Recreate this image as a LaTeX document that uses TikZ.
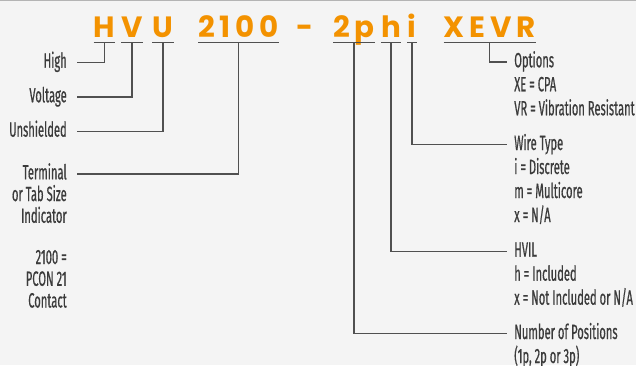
\documentclass[tikz,border=0pt]{standalone}
\usepackage{fontspec}
\newfontfamily\codefont{Poppins}[LetterSpace=16]
\newfontfamily\lblfont{Fira Sans}[FakeStretch=0.54,FakeBold=0.6]
\usetikzlibrary{positioning}
\definecolor{brand}{HTML}{F39200}
\definecolor{txtgray}{HTML}{3B3B3B}
\definecolor{leadgray}{HTML}{505050}
\definecolor{bgc}{HTML}{F4F4F4}
\definecolor{topline}{HTML}{B4B4B4}

\begin{document}
\begin{tikzpicture}[x=0.75pt,y=-0.75pt,
  code/.style={font=\codefont\bfseries\fontsize{22pt}{24pt}\selectfont,text=brand,inner sep=0pt,anchor=base},
  lead/.style={draw=leadgray,line width=1.1pt},
  lbl/.style={text=txtgray,inner sep=0pt},
  lblL/.style={lbl,align=right,anchor=base east,font=\lblfont\fontsize{15.5pt}{16.3pt}\selectfont},
  lblR/.style={lbl,align=left,anchor=base west,font=\lblfont\fontsize{15.5pt}{18pt}\selectfont}
]
  \fill[bgc] (0,0) rectangle (636,365);
  \useasboundingbox (0,0) rectangle (636,365);
  \draw[topline,line width=1.1pt] (0,0.75) -- (636,0.75);

  % part number
  \node[code] (cH) at (104.5,37) {H};
  \node[code] (cV) at (132,37) {V};
  \node[code] (cU) at (163,37) {U};
  \node[code] (c2100) at (238.5,37) {2100};
  \node[code] (cDash) at (305,37) {-};
  \node[code] (c2p) at (354,37) {2p};
  \node[code] (ch) at (391,37) {h};
  \node[code] (ci) at (412,37) {i};
  \node[code] (cXEVR) at (489.5,37) {XEVR};
  \foreach \c in {cH,cV,cU,c2100,c2p,ch,ci,cXEVR}
    \draw[lead] ([yshift=-4.1pt]\c.base west) -- ([yshift=-4.1pt]\c.base east);

  % left side (base = last line)
  \node[lblL] (lHigh) at (67,67.7) {High};
  \node[lblL] (lVolt) at (67,102.3) {Voltage};
  \node[lblL] (lUnsh) at (67,136.7) {Unshielded};
  \node[lblL] (lTerm) at (67,222.8) {Terminal\\or Tab Size\\Indicator};
  \node[lblL] (lPcon) at (67,307.5) {2100 =\\PCON 21\\Contact};
  \draw[lead] ([yshift=-4.1pt]cH.base) |- ([xshift=7.5pt,yshift=4.1pt]lHigh.base east);
  \draw[lead] ([yshift=-4.1pt]cV.base) |- ([xshift=7.5pt,yshift=4.1pt]lVolt.base east);
  \draw[lead] ([yshift=-4.1pt]cU.base) |- ([xshift=7.5pt,yshift=4.1pt]lUnsh.base east);
  \draw[lead] ([yshift=-4.1pt]c2100.base) |- ([xshift=7.5pt,yshift=36.7pt]lTerm.base east);

  % right side (base = last line)
  \node[lblR] (lOpt) at (514,115.3) {Options\\XE = CPA\\VR = Vibration Resistant};
  \node[lblR] (lWire) at (514,222) {Wire Type\\i = Discrete\\m = Multicore\\x = N/A};
  \node[lblR] (lHvil) at (514,304.7) {HVIL\\h = Included\\x = Not Included or N/A};
  \node[lblR] (lPos) at (514,363) {Number of Positions\\(1p, 2p or 3p)};
  \draw[lead] ([yshift=-4.1pt]cXEVR.base) |- ([xshift=-5.5pt,yshift=40.1pt]lOpt.base west);
  \draw[lead] ([yshift=-4.1pt]ci.base) |- ([xshift=-5.5pt,yshift=58.1pt]lWire.base west);
  \draw[lead] ([yshift=-4.1pt]ch.base) |- ([xshift=-5.5pt,yshift=40.1pt]lHvil.base west);
  \draw[lead] ([yshift=-4.1pt]c2p.base) |- ([xshift=-5.5pt,yshift=22.1pt]lPos.base west);
\end{tikzpicture}
\end{document}
